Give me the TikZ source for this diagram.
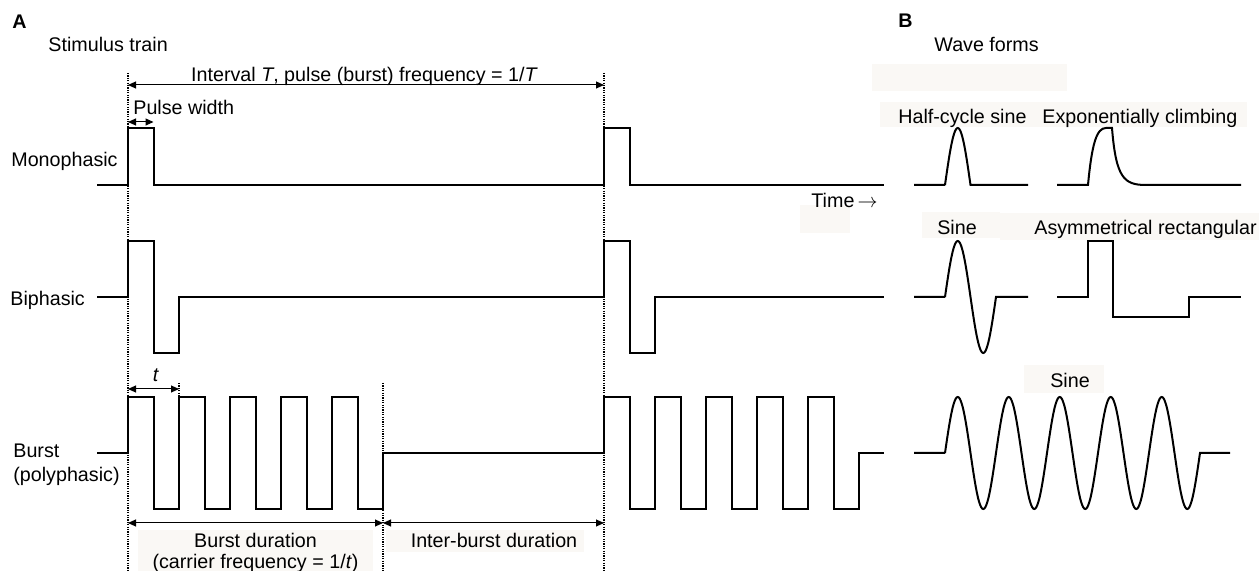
\documentclass[tikz,border=0pt]{standalone}
\usepackage{fontspec}
\setmainfont{Liberation Sans}
\usetikzlibrary{arrows.meta}
\definecolor{patch}{RGB}{250,248,245}

\begin{document}
\begin{tikzpicture}[x=0.5pt,y=-0.5pt,
  font=\fontsize{9.85}{11.8}\selectfont,
  wave/.style={line width=1pt,line join=miter},
  guide/.style={line width=0.6pt,dash pattern=on 0.6pt off 0.6pt},
  span/.style={line width=0.5pt,{Triangle[length=4pt,width=3.5pt]}-{Triangle[length=4pt,width=3.5pt]}},
  lbl/.style={inner sep=0pt}]
\useasboundingbox (0,0) rectangle (1259,571);

\fill[patch] (872,64) rectangle (1067,91);
\fill[patch] (880,102) rectangle (1247,127);
\fill[patch] (800,205) rectangle (850,233);
\fill[patch] (922,212) rectangle (1000,238);
\fill[patch] (1000,213) rectangle (1259,240);
\fill[patch] (1024,365) rectangle (1104,393);
\fill[patch] (138,530) rectangle (373,571);
\fill[patch] (386,530) rectangle (584,552);

\node[lbl,anchor=base west,font=\fontsize{9.85}{11.8}\selectfont\bfseries] (panA) at (12,29) {A};
\node[lbl,anchor=base west] (train) at (48,52) {Stimulus train};
\node[lbl,anchor=base west,font=\fontsize{9.85}{11.8}\selectfont\bfseries] (panB) at (898,28) {B};
\node[lbl,anchor=base west] (forms) at (934,52) {Wave forms};

\node[lbl,anchor=base east] (mono) at (118,167) {Monophasic};
\node[lbl,anchor=base west] (bi) at (10,306) {Biphasic};
\node[lbl,anchor=base west] (burst) at (13,458) {Burst};
\node[lbl,anchor=base west] (poly) at (13,482) {(polyphasic)};

% guides
\coordinate (g1) at (128,73);
\coordinate (g2) at (604,73);
\coordinate (g3) at (383,383);
\coordinate (g4) at (179,383);
\draw[guide] (g1) -- (128,571);
\draw[guide] (g2) -- (604,571);
\draw[guide] (g3) -- (383,571);
\draw[guide] (g4) -- (179,397);

% dimension arrows
\coordinate (iL) at (128,85);
\coordinate (iR) at (604,85);
\draw[span] (iL) -- (iR);
\node[lbl,anchor=base] (interval) at (364.5,82) {Interval \emph{T}, pulse (burst) frequency = 1/\emph{T}};
\coordinate (wL) at (128,122);
\coordinate (wR) at (153.5,122);
\draw[span] (wL) -- (wR);
\node[lbl,anchor=base west] (pw) at (133,115) {Pulse width};
\coordinate (tL) at (128,389);
\coordinate (tR) at (179,389);
\draw[span] (tL) -- (tR);
\node[lbl,anchor=base] (tlab) at (156,382) {\emph{t}};
\coordinate (bL) at (128,523);
\coordinate (bM) at (383,523);
\coordinate (bR) at (604,523);
\draw[span] (bL) -- (bM);
\draw[span] (bM) -- (bR);
\node[lbl,anchor=base] (bdur) at (255.5,547) {Burst duration};
\node[lbl,anchor=base] (carrier) at (255.5,568) {(carrier frequency = 1/\emph{t})};
\node[lbl,anchor=base] (ibdur) at (494,547) {Inter-burst duration};
\node[lbl,anchor=base west] (time) at (811,208) {Time\,$\rightarrow$};

% stimulus trains
\draw[wave] (97,185) -- (128,185) -- (128,128) -- (153.5,128) -- (153.5,185)
  -- (604,185) -- (604,128) -- (629.5,128) -- (629.5,185) -- (884,185);
\draw[wave] (97,297) -- (128,297) -- (128,241) -- (153.5,241) -- (153.5,353)
  -- (179,353) -- (179,297) -- (604,297) -- (604,241) -- (629.5,241)
  -- (629.5,353) -- (655,353) -- (655,297) -- (884,297);
\draw[wave] (97,453) -- (128,453)
  \foreach \k in {0,...,4}{ -- ({128+51*\k},397) -- ({153.5+51*\k},397)
    -- ({153.5+51*\k},509) -- ({179+51*\k},509) }
  -- (383,453) -- (604,453)
  \foreach \k in {0,...,4}{ -- ({604+51*\k},397) -- ({629.5+51*\k},397)
    -- ({629.5+51*\k},509) -- ({655+51*\k},509) }
  -- (859,453) -- (884,453);

% wave forms
\node[lbl,anchor=base west] (half) at (898,124) {Half-cycle sine};
\node[lbl,anchor=base west] (expo) at (1042,124) {Exponentially climbing};
\node[lbl,anchor=base] (sine) at (957,235) {Sine};
\node[lbl,anchor=base west] (asym) at (1034,235) {Asymmetrical rectangular};
\node[lbl,anchor=base] (sine2) at (1070,388) {Sine};

\draw[wave] (914,185) -- (945,185)
  plot[variable=\a,domain=0:180,samples=31,smooth] ({945+\a/360*51},{185-57*sin(\a)})
  -- (1028,185);
\draw[wave] (1057,185) -- (1088,185) .. controls (1092,142) and (1097,128) .. (1106,128)
  -- (1112,128) .. controls (1116,178) and (1124,185) .. (1146,185) -- (1241,185);
\draw[wave] (914,297) -- (945,297)
  plot[variable=\a,domain=0:360,samples=61,smooth] ({945+\a/360*51},{297-56*sin(\a)})
  -- (1028,297);
\draw[wave] (1057,297) -- (1088,297) -- (1088,241) -- (1113,241) -- (1113,317)
  -- (1189,317) -- (1189,297) -- (1241,297);
\draw[wave] (914,453) -- (945,453)
  plot[variable=\a,domain=0:1800,samples=241,smooth] ({945+\a/360*51},{453-56*sin(\a)})
  -- (1230,453);
\end{tikzpicture}
\end{document}
